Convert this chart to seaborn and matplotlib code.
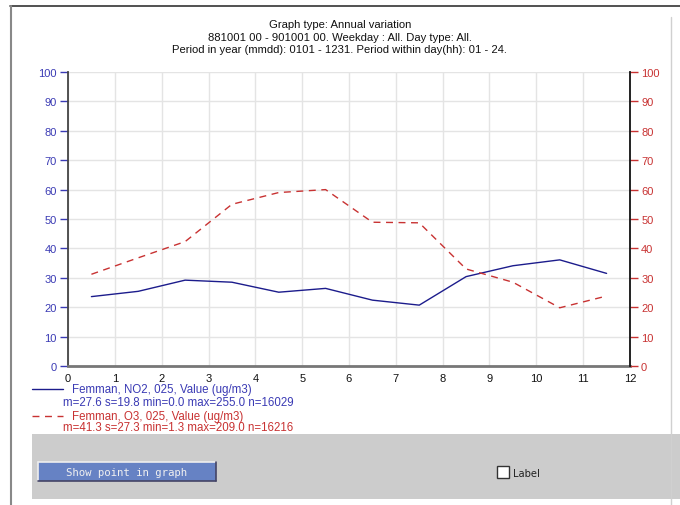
import matplotlib
matplotlib.use("Agg")
import matplotlib.pyplot as plt
import seaborn as sns
import pandas as pd
from matplotlib.patches import Rectangle
from matplotlib.lines import Line2D

# ---- data ----
months = [0.5, 1.5, 2.5, 3.5, 4.5, 5.5, 6.5, 7.5, 8.5, 9.5, 10.5, 11.5]
no2 = [23.6, 25.4, 29.2, 28.5, 25.1, 26.4, 22.4, 20.7, 30.4, 34.1, 36.1, 31.5]
o3 = [31.2, 36.8, 42.3, 55.0, 59.0, 60.0, 48.9, 48.7, 33.0, 28.5, 19.8, 23.8]
x_ticks = list(range(0, 13))
y_ticks = list(range(0, 101, 10))
title_lines = [
    "Graph type: Annual variation",
    "881001 00 - 901001 00. Weekday : All. Day type: All.",
    "Period in year (mmdd): 0101 - 1231. Period within day(hh): 01 - 24.",
]
legend_names = ["Femman, NO2, 025, Value (ug/m3)", "Femman, O3, 025, Value (ug/m3)"]
legend_stats = ["m=27.6 s=19.8 min=0.0 max=255.0 n=16029",
                "m=41.3 s=27.3 min=1.3 max=209.0 n=16216"]

sns.set_style("white")
plt.rcParams['font.family'] = ['Liberation Sans', 'DejaVu Sans']

W, H = 680, 506
fig = plt.figure(figsize=(W / 100, H / 100), dpi=100)

def fx(px):
    return px / W

def fy(py):
    return 1 - py / H

BLUE_LINE = "#1c1c8c"
BLUE_TXT = "#3a3ab4"
RED = "#c83232"

# frame lines
fig.add_artist(Line2D([fx(10), fx(680)], [fy(7), fy(7)], color="#333333", lw=1.2))
fig.add_artist(Line2D([fx(10.5), fx(10.5)], [fy(7), fy(506)], color="#888888", lw=1.5))
fig.add_artist(Line2D([fx(671), fx(671)], [fy(18), fy(506)], color="#d0d0d0", lw=1.0))

# gray panel
fig.add_artist(Rectangle((fx(32), fy(500)), fx(680 - 32), (500 - 435) / H,
                         facecolor="#cccccc", edgecolor="none", zorder=0))
# button
fig.add_artist(Rectangle((fx(38), fy(482)), fx(216 - 38), (482 - 463) / H,
                         facecolor="#6682c4", edgecolor="none", zorder=1))
fig.add_artist(Line2D([fx(38), fx(216)], [fy(463), fy(463)], color="#eeeeee", lw=1.2, zorder=2))
fig.add_artist(Line2D([fx(38), fx(38)], [fy(463), fy(482)], color="#eeeeee", lw=1.2, zorder=2))
fig.add_artist(Line2D([fx(38), fx(216)], [fy(482), fy(482)], color="#444466", lw=1.2, zorder=2))
fig.add_artist(Line2D([fx(216), fx(216)], [fy(463), fy(482)], color="#444466", lw=1.2, zorder=2))
fig.text(fx(127), fy(472.5), "Show point in graph", ha="center", va="center",
         fontsize=7.7, color="#f0f0f0", family=["DejaVu Sans Mono"], zorder=3)
# checkbox
fig.add_artist(Rectangle((fx(497), fy(479)), fx(12), 12 / H,
                         facecolor="#ffffff", edgecolor="#333333", lw=1.0, zorder=2))
fig.text(fx(513), fy(474), "Label", ha="left", va="center", fontsize=7.2,
         color="#222222", family=["DejaVu Sans"], zorder=3)

# titles
for i, t in enumerate(title_lines):
    fig.text(0.5, fy(25.5 + i * 12.3), t, ha="center", va="center", fontsize=8.1, color="#111111")

# axes
ax = fig.add_axes([fx(68), fy(367), fx(630 - 68), (367 - 73) / H])
df = pd.DataFrame({"month": months, "NO2": no2, "O3": o3})
sns.lineplot(data=df, x="month", y="NO2", ax=ax, color=BLUE_LINE, lw=1.0)
ax2 = ax.twinx()
sns.lineplot(data=df, x="month", y="O3", ax=ax2, color=RED, lw=1.0, linestyle=(0, (5, 4)))

for a in (ax, ax2):
    a.set_xlim(0, 12)
    a.set_ylim(0, 100)
    a.set_yticks(y_ticks)
    a.set_xlabel("")
    a.set_ylabel("")
    a.spines["top"].set_visible(False)

ax.set_xticks(x_ticks)
ax.set_xticklabels([str(v) for v in x_ticks], fontsize=8, color="#111111")
ax.grid(True, color="#e4e4e4", lw=1.0)
ax.set_axisbelow(True)
ax.set_yticklabels([str(v) for v in y_ticks], fontsize=8, color=BLUE_TXT)
ax.tick_params(axis="y", colors=BLUE_TXT, length=6, width=1.0, direction="out", pad=2,
               labelcolor=BLUE_TXT)
ax.tick_params(axis="x", colors="#222222", length=8, width=1.0, direction="inout", pad=1,
               labelcolor="#111111")
ax.spines["left"].set_color("#444444")
ax.spines["left"].set_linewidth(1.3)
ax.spines["bottom"].set_color("#777777")
ax.spines["bottom"].set_linewidth(2.0)
ax.spines["right"].set_visible(False)

ax2.set_yticklabels([str(v) for v in y_ticks], fontsize=8, color=RED)
ax2.tick_params(axis="y", colors=RED, length=6, width=1.0, direction="out", pad=2,
                labelcolor=RED)
ax2.spines["right"].set_color("#111111")
ax2.spines["right"].set_linewidth(1.3)
ax2.spines["left"].set_visible(False)
ax2.spines["bottom"].set_visible(False)
ax2.grid(False)
ax.set_zorder(ax2.get_zorder() - 1)
ax2.patch.set_visible(False)

# legend block
fig.add_artist(Line2D([fx(32), fx(63)], [fy(390), fy(390)], color=BLUE_LINE, lw=1.0))
fig.text(fx(72), fy(390), legend_names[0], ha="left", va="center", fontsize=8.3, color=BLUE_TXT)
fig.text(fx(63), fy(403), legend_stats[0], ha="left", va="center", fontsize=8.3, color=BLUE_TXT)
fig.add_artist(Line2D([fx(32), fx(63)], [fy(417), fy(417)], color=RED, lw=1.0,
                      linestyle=(0, (5, 4))))
fig.text(fx(72), fy(417), legend_names[1], ha="left", va="center", fontsize=8.3, color=RED)
fig.text(fx(63), fy(428), legend_stats[1], ha="left", va="center", fontsize=8.3, color=RED)

fig.savefig("out.png", dpi=100)
